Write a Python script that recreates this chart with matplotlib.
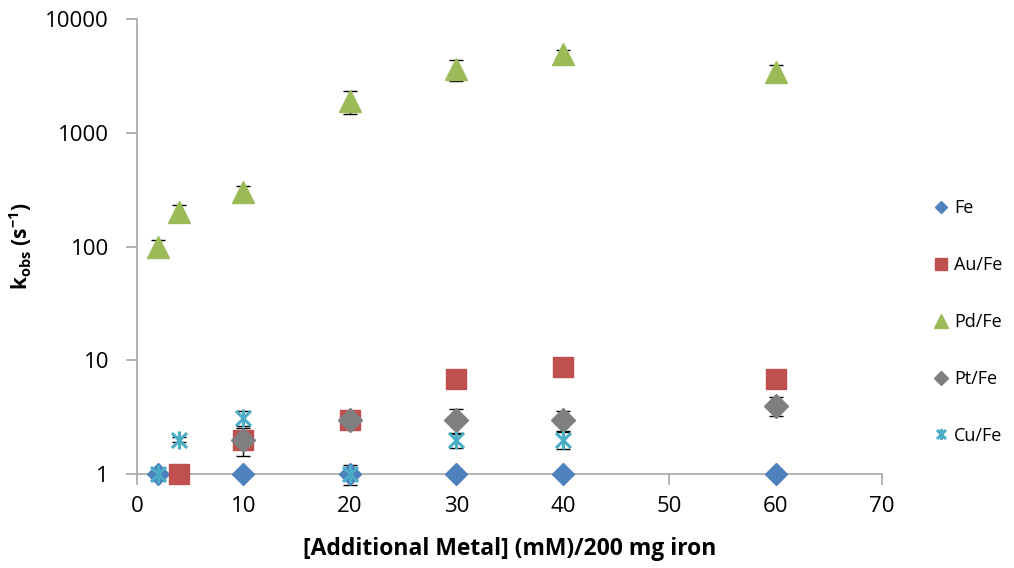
import numpy as np
import matplotlib
matplotlib.use("Agg")
import matplotlib.pyplot as plt
from matplotlib.path import Path
from matplotlib.ticker import FixedLocator, FixedFormatter, NullLocator

plt.rcParams['font.family'] = ['Open Sans', 'DejaVu Sans']
plt.rcParams['mathtext.fontset'] = 'custom'
plt.rcParams['mathtext.rm'] = 'Open Sans:bold'
plt.rcParams['mathtext.bf'] = 'Open Sans:bold'
plt.rcParams['mathtext.default'] = 'bf'

# data
fe_x = [2, 10, 20, 30, 40, 60]
fe_y = [1, 1, 1, 1, 1, 1]
fe_err = [0.05, 0.05, 0.05, 0.05, 0.05, 0.05]

au_x = [4, 10, 20, 30, 40, 60]
au_y = [1, 2, 3, 6.8, 8.8, 6.8]
au_err = [0.05, 0.2, 0.2, 0.3, 0.3, 0.3]

pd_x = [2, 4, 10, 20, 30, 40, 60]
pd_y = [100, 200, 300, 1900, 3600, 4900, 3400]
pd_err = [15, 30, 40, 430, 720, 450, 550]

pt_x = [10, 20, 30, 40, 60]
pt_y = [2, 3, 3, 3, 4]
pt_err = [0.55, 0.2, 0.75, 0.6, 0.75]

cu_x = [2, 4, 10, 20, 30, 40]
cu_y = [1, 2, 3.1, 1, 2, 2]
cu_err = [0.12, 0.1, 0.45, 0.2, 0.3, 0.35]

# Excel-style star marker: x plus a vertical bar
star = Path([(-1, -1), (1, 1), (-1, 1), (1, -1), (0, -1.2), (0, 1.2)],
            [Path.MOVETO, Path.LINETO, Path.MOVETO, Path.LINETO, Path.MOVETO, Path.LINETO])

fig = plt.figure(figsize=(10.14, 5.68), dpi=100)
ax = fig.add_axes([0.135, 0.1655, 0.735, 0.801])

series = [
    ('Fe', fe_x, fe_y, fe_err, 'D', '#4F81BD', 11),
    ('Au/Fe', au_x, au_y, au_err, 's', '#C0504D', 15),
    ('Pd/Fe', pd_x, pd_y, pd_err, '^', '#9BBB59', 16),
    ('Pt/Fe', pt_x, pt_y, pt_err, 'D', '#7F7F7F', 12),
]
for name, x, y, e, m, c, s in series:
    eb = ax.errorbar(x, y, yerr=e, fmt='none', ecolor='black', elinewidth=1, capsize=5, capthick=1, zorder=2)
    for art in eb.lines[1] + eb.lines[2]:
        art.set_clip_on(False)
    ax.plot(x, y, linestyle='none', marker=m, color=c, markersize=s, label=name, zorder=3, clip_on=False)

eb = ax.errorbar(cu_x, cu_y, yerr=cu_err, fmt='none', ecolor='black', elinewidth=1, capsize=5, capthick=1, zorder=2)
for art in eb.lines[1] + eb.lines[2]:
    art.set_clip_on(False)
ax.plot(cu_x, cu_y, linestyle='none', marker=star, markersize=13, markeredgewidth=2.2,
        color='#4BACC6', label='Cu/Fe', zorder=4, clip_on=False)

ax.set_yscale('log')
ax.set_ylim(1, 10000)
ax.set_xlim(0, 70)
ax.yaxis.set_major_locator(FixedLocator([1, 10, 100, 1000, 10000]))
ax.yaxis.set_major_formatter(FixedFormatter(['1', '10', '100', '1000', '10000']))
ax.yaxis.set_minor_locator(NullLocator())
ax.set_xticks(range(0, 71, 10))

for sp in ['top', 'right']:
    ax.spines[sp].set_visible(False)
for sp in ['left', 'bottom']:
    ax.spines[sp].set_color('#A6A6A6')
    ax.spines[sp].set_linewidth(1.2)
ax.tick_params(axis='both', colors='#A6A6A6', length=8, width=1.2, labelsize=16, labelcolor='black')
ax.tick_params(axis='x', pad=8)
ax.tick_params(axis='y', pad=12)

ax.set_xlabel('[Additional Metal] (mM)/200 mg iron', fontsize=16.5, fontweight='bold', labelpad=14)
ax.set_ylabel(r'k$_{obs}$ (s$^{-1}$)', fontsize=15, fontweight='bold', labelpad=8)

ax.legend(loc='center left', bbox_to_anchor=(1.043, 0.334), frameon=False, fontsize=13,
          labelspacing=2.15, handletextpad=0.1, handlelength=1.2, markerscale=0.6)

fig.savefig('out.png', dpi=100)
